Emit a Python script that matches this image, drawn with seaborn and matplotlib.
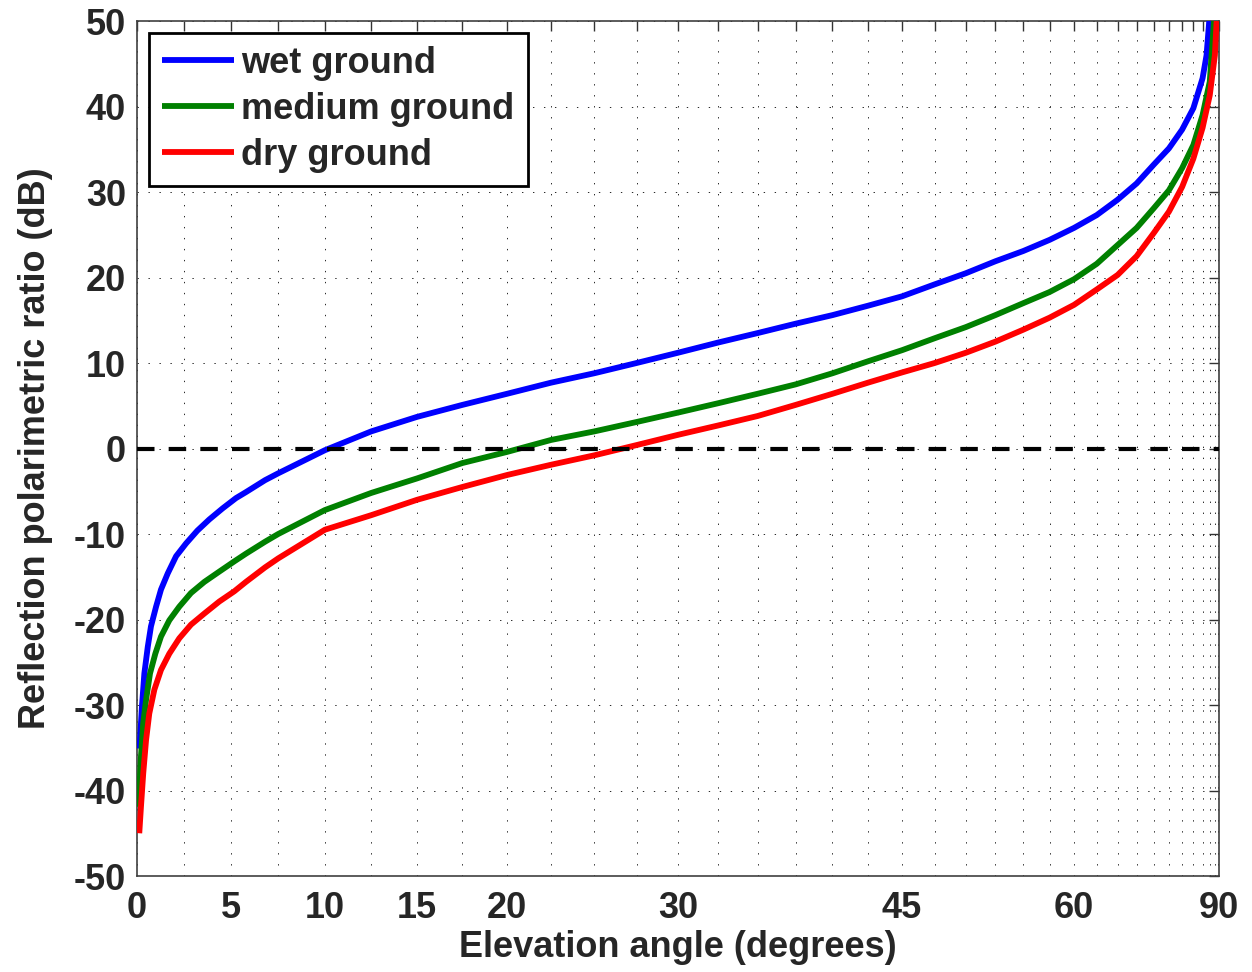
import numpy as np
import pandas as pd
import matplotlib
matplotlib.use("Agg")
import matplotlib.pyplot as plt
from matplotlib.lines import Line2D
import seaborn as sns

# ---- data (elevation angle in degrees, ratio in dB) ----
wet_angle = [0.12, 0.16, 0.26, 0.39, 0.57, 0.74, 1.01, 1.27, 1.63, 2.07, 2.6, 3.2, 3.83, 4.54,
             5.25, 5.78, 6.8, 7.5, 10, 12.5, 15, 17.5, 20,
             22.5, 25, 27.5, 30, 32.5, 35, 37.5, 40, 42.5, 45, 47.5, 50, 52.5, 55, 57.5,
             60, 62.5, 65, 67.5, 70, 72.5, 75, 77.5, 80, 81.3, 82.3]
wet_db = [-35.1, -34.1, -30.2, -26.3, -23.2, -20.8, -18.5, -16.5, -14.6, -12.6, -11.1, -9.6, -8.3, -7.0,
          -5.8, -5.1, -3.7, -2.9, -0.2, 2.0, 3.7, 5.1, 6.4,
          7.7, 8.8, 10.0, 11.2, 12.4, 13.5, 14.6, 15.6, 16.7, 17.8, 19.2, 20.5, 21.9, 23.1, 24.4,
          25.8, 27.3, 29.1, 31.0, 33.2, 35.1, 37.3, 39.8, 43.3, 46.0, 50.0]

medium_angle = [0.1, 0.12, 0.21, 0.33, 0.48, 0.69, 0.97, 1.27, 1.71, 2.24, 2.86, 3.57, 4.36, 5.16,
                5.78, 6.8, 7.5, 10, 12.5, 15, 17.5, 20,
                22.5, 25, 27.5, 30, 32.5, 35, 37.5, 40, 42.5, 45, 47.5, 50, 52.5, 55, 57.5,
                60, 62.5, 65, 67.5, 70, 72.5, 75, 77.5, 80, 82.5, 84.5]
medium_db = [-41.9, -40.0, -36.0, -32.1, -29.4, -26.3, -24.0, -22.0, -20.1, -18.5, -16.9, -15.6, -14.4, -13.2,
             -12.3, -10.9, -10.0, -7.2, -5.2, -3.5, -1.7, -0.4,
             1.0, 2.0, 3.1, 4.2, 5.3, 6.4, 7.5, 8.8, 10.2, 11.5, 12.9, 14.2, 15.6, 17.0, 18.3,
             19.8, 21.6, 23.8, 25.8, 28.1, 30.2, 32.8, 35.5, 39.0, 42.9, 50.0]

dry_angle = [0.12, 0.21, 0.33, 0.48, 0.65, 0.92, 1.27, 1.71, 2.24, 2.86, 3.57, 4.36, 5.16, 5.78,
             6.8, 7.5, 10, 12.5, 15, 17.5, 20,
             22.5, 25, 27.5, 30, 32.5, 35, 37.5, 40, 42.5, 45, 47.5, 50, 52.5, 55, 57.5,
             60, 62.5, 65, 67.5, 70, 72.5, 75, 77.5, 80, 82.5, 85, 86.2]
dry_db = [-45.0, -41.9, -38.0, -34.1, -31.0, -28.2, -25.9, -24.0, -22.2, -20.6, -19.3, -17.9, -16.7, -15.6,
          -13.9, -12.85, -9.5, -7.8, -6.0, -4.5, -3.1,
          -1.9, -0.8, 0.4, 1.6, 2.7, 3.8, 5.1, 6.4, 7.7, 8.9, 10.0, 11.2, 12.5, 13.9, 15.3,
          16.8, 18.6, 20.3, 22.5, 25.2, 27.7, 30.6, 33.9, 37.5, 41.3, 46.0, 50.0]

series_names = ["wet ground", "medium ground", "dry ground"]
series_colors = ["#0000ff", "#008000", "#ff0000"]

x_major_ticks = [0, 5, 10, 15, 20, 30, 45, 60, 90]
x_minor_step = 2.5
y_ticks = [-50, -40, -30, -20, -10, 0, 10, 20, 30, 40, 50]

x_label = "Elevation angle (degrees)"
y_label = "Reflection polarimetric ratio (dB)"

# ---- build table ----
frames = []
for name, ang, db in zip(series_names, [wet_angle, medium_angle, dry_angle],
                         [wet_db, medium_db, dry_db]):
    frames.append(pd.DataFrame({"angle": ang, "db": db, "ground": name}))
df = pd.concat(frames, ignore_index=True)

# ---- style ----
sns.set_style("white")
plt.rcParams["font.family"] = ["Liberation Sans", "DejaVu Sans"]
plt.rcParams["font.weight"] = "bold"
plt.rcParams["lines.solid_capstyle"] = "butt"
plt.rcParams["lines.solid_joinstyle"] = "round"
FS = 26
LW = 4.2

fig = plt.figure(figsize=(12.52, 9.72), dpi=100)
ax = fig.add_axes([137 / 1252, 1 - 876 / 972, (1219 - 137) / 1252, (876 - 21) / 972])


def fwd(x):
    return np.sin(np.deg2rad(np.clip(x, 0, 90)))


def inv(s):
    return np.rad2deg(np.arcsin(np.clip(s, 0, 1)))


ax.set_xscale("function", functions=(fwd, inv))

sns.lineplot(data=df, x="angle", y="db", hue="ground", hue_order=series_names,
             palette=series_colors, estimator=None, sort=False, linewidth=LW,
             ax=ax, legend=False, zorder=3)

ax.axhline(0, color="black", linewidth=3.0, linestyle=(0, (4.2, 3.4)), zorder=4)

ax.set_xlim(0, 90)
ax.set_ylim(-50, 50)
ax.set_xticks(x_major_ticks)
ax.set_xticks(np.arange(0, 90 + 0.01, x_minor_step), minor=True)
ax.set_yticks(y_ticks)
ax.set_xticklabels([str(t) for t in x_major_ticks])
ax.set_yticklabels([str(t) for t in y_ticks])

ax.tick_params(axis="both", which="both", direction="in", top=True, right=True,
               length=7, width=1.0, color="0.2", labelsize=FS)
ax.tick_params(axis="x", which="both", pad=11)
ax.tick_params(axis="y", which="both", pad=8)
ax.tick_params(axis="y", which="minor", length=0)

grid_style = dict(color="0.15", linewidth=0.7, linestyle=(0, (1.4, 9.9)))
ax.grid(True, axis="x", which="both", **grid_style)
ax.grid(True, axis="y", which="major", **grid_style)
ax.set_axisbelow(True)

for sp in ax.spines.values():
    sp.set_color("0.25")
    sp.set_linewidth(1.2)

ax.set_xlabel(x_label, fontsize=FS, fontweight="bold", labelpad=3)
ax.set_ylabel(y_label, fontsize=FS, fontweight="bold", labelpad=15)

handles = [Line2D([], [], color=c, linewidth=LW) for c in series_colors]
leg = ax.legend(handles, series_names, loc="upper left", bbox_to_anchor=(0.011, 0.986),
                borderaxespad=0, prop={"weight": "bold", "size": FS},
                handlelength=2.0, handletextpad=0.2, labelspacing=0.3, borderpad=0.36,
                fancybox=False, framealpha=1, edgecolor="black")
leg.get_frame().set_linewidth(2.0)
leg.set_zorder(10)

fig.savefig("out.png", dpi=100)
